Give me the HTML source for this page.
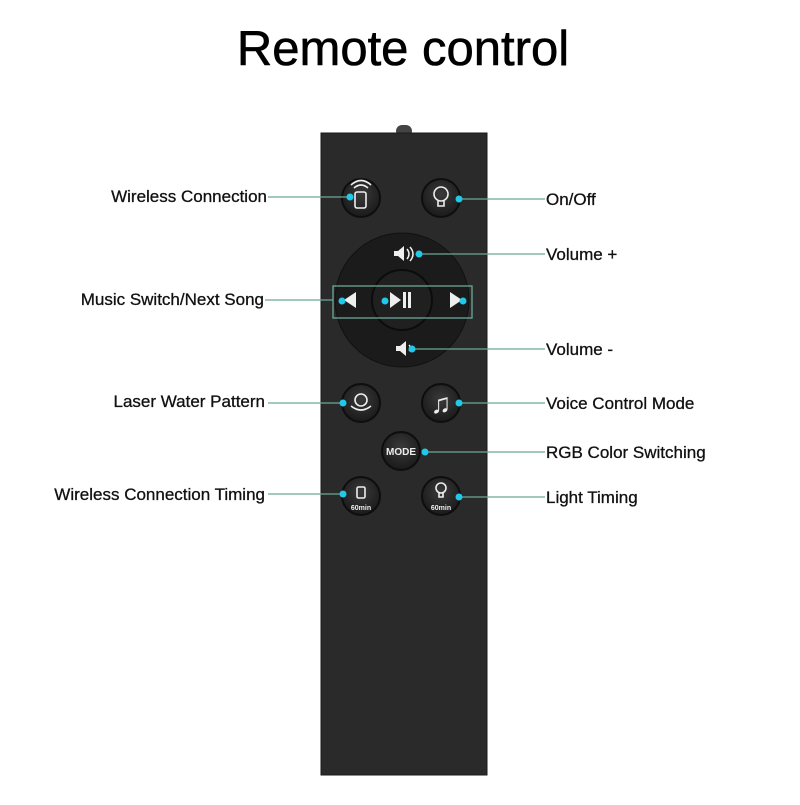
<!DOCTYPE html>
<html><head><meta charset="utf-8"><style>
body{margin:0;background:#fff;width:800px;height:800px;overflow:hidden;font-family:"Liberation Sans",sans-serif}
</style></head><body>
<svg width="800" height="800" viewBox="0 0 800 800" xmlns="http://www.w3.org/2000/svg" font-family="Liberation Sans, sans-serif">
<text x="403" y="65" font-size="49" text-anchor="middle" fill="#000" stroke="#000" stroke-width="0.6">Remote control</text>
<defs>
<radialGradient id="bg" cx="50%" cy="40%" r="60%"><stop offset="0" stop-color="#3a3a3a"/><stop offset="1" stop-color="#1a1a1a"/></radialGradient>
</defs>
<rect x="396" y="125" width="16" height="12" rx="6" fill="#444"/>
<rect x="321" y="133" width="166" height="642" fill="#2a2a2a" stroke="#1a1a1a"/>
<circle cx="402" cy="300" r="67" fill="#1b1b1b" stroke="#111"/>
<circle cx="402" cy="300" r="30" fill="#202020" stroke="#0c0c0c" stroke-width="2"/>
<rect x="333" y="286" width="139" height="32" fill="none" stroke="#6aa89a" stroke-width="1.3"/>
<g fill="url(#bg)" stroke="#0e0e0e" stroke-width="2">
<circle cx="361" cy="198" r="19"/><circle cx="441" cy="198" r="19"/>
<circle cx="361" cy="403" r="19"/><circle cx="441" cy="403" r="19"/>
<circle cx="401" cy="451" r="19"/>
<circle cx="361" cy="496" r="19"/><circle cx="441" cy="496" r="19"/>
</g>
<g fill="#eee" font-weight="bold" text-anchor="middle">
<text x="401" y="455" font-size="10">MODE</text>
<text x="361" y="510" font-size="7">60min</text>
<text x="441" y="510" font-size="7">60min</text>
<text x="441" y="413" font-size="28">♫</text>
</g>
<g fill="none" stroke="#eee" stroke-width="1.6">
<rect x="355" y="192" width="11" height="16" rx="2"/><path d="M354 188 q7-6 14 0 M351 185 q10-9 20 0"/>
<circle cx="441" cy="194" r="7"/><path d="M438 201 v5 h6 v-5"/>
<circle cx="361" cy="400" r="6"/><path d="M351 406 q10 8 20 0"/>
<rect x="357" y="487" width="8" height="11" rx="1.5"/>
<circle cx="441" cy="488" r="5"/><path d="M439 493 v4 h4 v-4"/>
</g>
<g fill="#eee">
<path d="M344 300 l12-8 v16z"/><path d="M462 300 l-12-8 v16z"/>
<path d="M390 292 l11 8 -11 8z"/><rect x="403" y="292" width="3" height="16"/><rect x="408" y="292" width="3" height="16"/>
<path d="M394 251 h4 l6-5 v15 l-6-5 h-4z"/><path d="M407 249 q4 5 0 10 M410 247 q6 7 0 14" stroke="#eee" fill="none" stroke-width="1.5"/>
<path d="M396 346 h4 l6-5 v15 l-6-5 h-4z"/><path d="M409 345 q3 3 0 6" stroke="#eee" fill="none" stroke-width="1.5"/>
</g>
<g stroke="#6aa89a" stroke-width="1.3">
<line x1="268" y1="197" x2="349" y2="197"/>
<line x1="460" y1="199" x2="545" y2="199"/>
<line x1="420" y1="254" x2="545" y2="254"/>
<line x1="265" y1="300" x2="333" y2="300"/>
<line x1="413" y1="349" x2="545" y2="349"/>
<line x1="268" y1="403" x2="345" y2="403"/>
<line x1="458" y1="403" x2="545" y2="403"/>
<line x1="426" y1="452" x2="545" y2="452"/>
<line x1="268" y1="494" x2="345" y2="494"/>
<line x1="458" y1="497" x2="545" y2="497"/>
</g>
<g fill="#22c8e8">
<circle cx="350" cy="197" r="3.5"/><circle cx="459" cy="199" r="3.5"/>
<circle cx="419" cy="254" r="3.5"/><circle cx="412" cy="349" r="3.5"/>
<circle cx="342" cy="301" r="3.5"/><circle cx="385" cy="301" r="3.5"/><circle cx="463" cy="301" r="3.5"/>
<circle cx="343" cy="403" r="3.5"/><circle cx="459" cy="403" r="3.5"/>
<circle cx="425" cy="452" r="3.5"/>
<circle cx="343" cy="494" r="3.5"/><circle cx="459" cy="497" r="3.5"/>
</g>
<g font-size="17" fill="#111" stroke="#111" stroke-width="0.3">
<g text-anchor="end">
<text x="267" y="202">Wireless Connection</text>
<text x="264" y="305">Music Switch/Next Song</text>
<text x="265" y="407">Laser Water Pattern</text>
<text x="265" y="500">Wireless Connection Timing</text>
</g>
<text x="546" y="205">On/Off</text>
<text x="546" y="260">Volume +</text>
<text x="546" y="355">Volume -</text>
<text x="546" y="409">Voice Control Mode</text>
<text x="546" y="458">RGB Color Switching</text>
<text x="546" y="503">Light Timing</text>
</g>
</svg>
</body></html>
